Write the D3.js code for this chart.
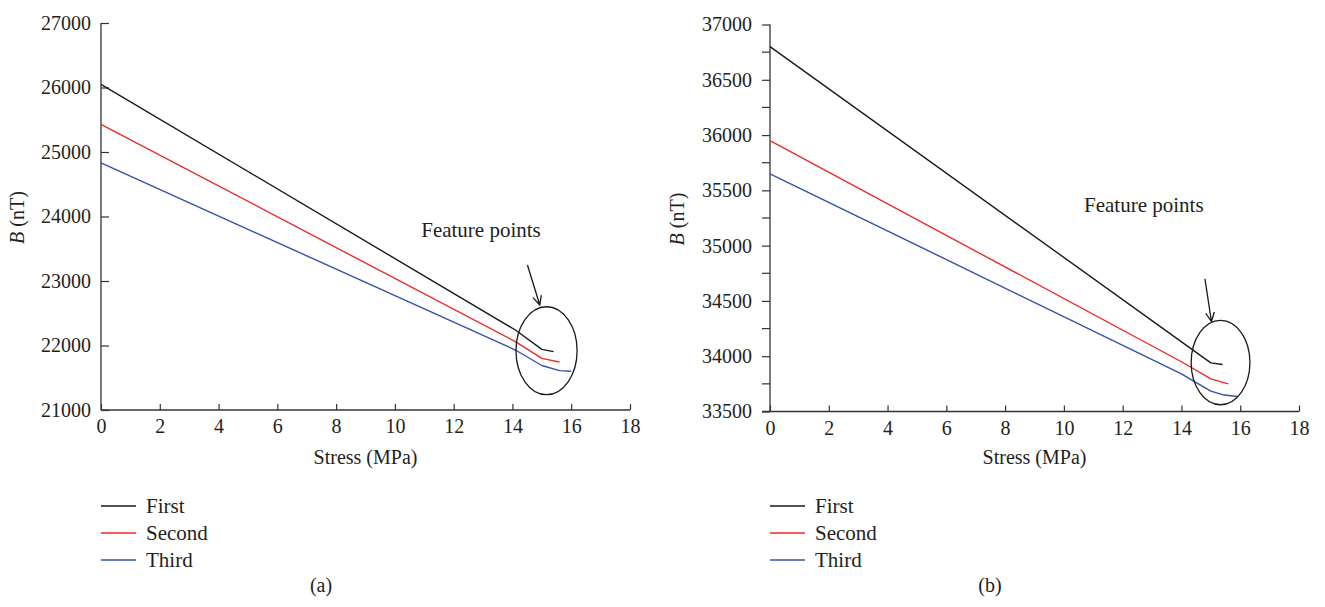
<!DOCTYPE html>
<html>
<head>
<meta charset="utf-8">
<script src="https://cdn.jsdelivr.net/npm/d3@7"></script>
<style>
  body { margin: 0; background: #fff; }
  svg { display: block; font-family: "Liberation Serif", "Times New Roman", Times, serif; }
</style>
</head>
<body>
<svg width="1325" height="607"></svg>
<script>
const seriesNames = ['First', 'Second', 'Third']
const colors = ['#1a1a1a', '#ec2b2b', '#3450ad']

// panel (a)
const aFirst = [[0, 26050], [14.1, 22240], [15, 21940], [15.4, 21905]]
const aSecond = [[0, 25430], [14.1, 22060], [15, 21800], [15.6, 21745]]
const aThird = [[0, 24830], [14.1, 21930], [15, 21690], [15.6, 21610], [16, 21600]]
const aYTicks = [21000, 22000, 23000, 24000, 25000, 26000, 27000]

// panel (b)
const bFirst = [[0, 36800], [15, 33940], [15.4, 33925]]
const bSecond = [[0, 35950], [14, 33950], [15, 33795], [15.6, 33750]]
const bThird = [[0, 35650], [14, 33840], [14.4, 33777], [15, 33685], [15.4, 33652], [15.9, 33636]]
const bYTicks = [33500, 34000, 34500, 35000, 35500, 36000, 36500, 37000]
const bYMinor = [33750, 34250, 34750, 35250, 35750, 36250, 36750]

const xTicks = [0, 2, 4, 6, 8, 10, 12, 14, 16, 18]

// annotations: ellipse centre/radii, arrow start/end, label position (data units)
const aNote = { cx: 15.16, cy: 21919, rx: 1.04, ry: 682, from: [14.51, 23248], to: [14.93, 22628], label: [12.93, 23682] }
const bNote = { cx: 15.33, cy: 33943, rx: 1.0, ry: 382, from: [14.8, 34700], to: [15.02, 34314], label: [12.72, 35306] }

const FONT = '"Liberation Serif", "Times New Roman", Times, serif'
const svg = d3.select('svg')

function panel(o) {
    const x = d3.scaleLinear().domain([0, 18]).range([o.left, o.left + 529])
    const y = d3.scaleLinear().domain(o.yDomain).range([o.bottom, o.top])
    const g = svg.append('g')

    // x axis
    const xa = g.append('g')
        .attr('transform', `translate(0,${o.bottom})`)
        .call(d3.axisBottom(x).tickValues(xTicks).tickSize(-6).tickPadding(9).tickFormat(d3.format('d')))
    xa.select('.domain').remove()
    xa.append('line')
        .attr('x1', o.left - (o.outward ? 8 : 0)).attr('x2', x(18))
        .attr('stroke', '#333').attr('stroke-width', 1.3)

    // y axis
    const ya = g.append('g')
        .attr('transform', `translate(${o.left},0)`)
        .call(d3.axisLeft(y).tickValues(o.yTicks).tickSize(o.outward ? 8 : -8).tickPadding(10).tickFormat(d3.format('d')))
    ya.select('.domain').remove()
    ya.append('line')
        .attr('y1', o.top).attr('y2', o.bottom)
        .attr('stroke', '#333').attr('stroke-width', 1.3)
    if (o.yMinor) {
        ya.selectAll('line.minor')
            .data(o.yMinor)
            .join('line')
            .attr('class', 'minor')
            .attr('x1', -8).attr('x2', 0)
            .attr('y1', d => y(d)).attr('y2', d => y(d))
            .attr('stroke', '#333').attr('stroke-width', 1.2)
    }

    g.selectAll('.tick line').attr('stroke', '#333').attr('stroke-width', 1.2)
    xa.attr('font-family', FONT).attr('font-size', 20)
    ya.attr('font-family', FONT).attr('font-size', 20)
    g.selectAll('.tick text').attr('fill', '#231f20')

    // series
    const line = d3.line().x(d => x(d[0])).y(d => y(d[1]))
    o.series.forEach((s, i) => {
        g.append('path')
            .datum(s)
            .attr('d', line)
            .attr('fill', 'none')
            .attr('stroke', colors[i])
            .attr('stroke-width', 1.4)
            .attr('stroke-linejoin', 'round')
    })

    // annotation
    const n = o.note
    g.append('ellipse')
        .attr('cx', x(n.cx)).attr('cy', y(n.cy))
        .attr('rx', x(n.cx + n.rx) - x(n.cx))
        .attr('ry', y(n.cy - n.ry) - y(n.cy))
        .attr('fill', 'none').attr('stroke', '#1a1a1a').attr('stroke-width', 1.3)

    const x1 = x(n.from[0]), y1 = y(n.from[1]), x2 = x(n.to[0]), y2 = y(n.to[1])
    const ang = Math.atan2(y2 - y1, x2 - x1)
    const hl = 10, ha = 0.45
    g.append('path')
        .attr('d', `M${x1},${y1}L${x2},${y2}` +
            `M${x2 - hl * Math.cos(ang - ha)},${y2 - hl * Math.sin(ang - ha)}L${x2},${y2}` +
            `L${x2 - hl * Math.cos(ang + ha)},${y2 - hl * Math.sin(ang + ha)}`)
        .attr('fill', 'none').attr('stroke', '#1a1a1a').attr('stroke-width', 1.3)

    g.append('text')
        .attr('x', x(n.label[0])).attr('y', y(n.label[1]))
        .attr('text-anchor', 'middle')
        .attr('font-family', FONT)
        .style('font-size', '21px').attr('fill', '#231f20')
        .text('Feature points')

    // axis titles
    g.append('text')
        .attr('x', x(9)).attr('y', 464)
        .attr('text-anchor', 'middle')
        .attr('font-family', FONT)
        .style('font-size', '20px').attr('fill', '#231f20')
        .text('Stress (MPa)')

    const yt = g.append('text')
        .attr('transform', `translate(${o.left - (o.outward ? 86 : 77)},${(o.top + o.bottom) / 2 + 1}) rotate(-90)`)
        .attr('text-anchor', 'middle')
        .attr('font-family', FONT)
        .style('font-size', '20px').attr('fill', '#231f20')
    yt.append('tspan').style('font-style', 'italic').text('B')
    yt.append('tspan').text(' (nT)')

    // legend
    seriesNames.forEach((name, i) => {
        const ly = 506 + i * 27
        g.append('line')
            .attr('x1', o.left).attr('x2', o.left + 35)
            .attr('y1', ly).attr('y2', ly)
            .attr('stroke', colors[i]).attr('stroke-width', 1.6)
        g.append('text')
            .attr('x', o.left + 45).attr('y', ly + 6.5)
            .attr('font-family', FONT)
            .style('font-size', '21px').attr('fill', '#231f20')
            .text(name)
    })

    g.append('text')
        .attr('x', o.left + 220).attr('y', 592)
        .attr('text-anchor', 'middle')
        .attr('font-family', FONT)
        .style('font-size', '20px').attr('fill', '#231f20')
        .text(o.tag)
}

panel({
    left: 101, top: 23, bottom: 410, yDomain: [21000, 27000], yTicks: aYTicks,
    outward: false, series: [aFirst, aSecond, aThird], note: aNote, tag: '(a)'
})
panel({
    left: 770, top: 24.5, bottom: 411.5, yDomain: [33500, 37000], yTicks: bYTicks, yMinor: bYMinor,
    outward: true, series: [bFirst, bSecond, bThird], note: bNote, tag: '(b)'
})
</script>
</body>
</html>
